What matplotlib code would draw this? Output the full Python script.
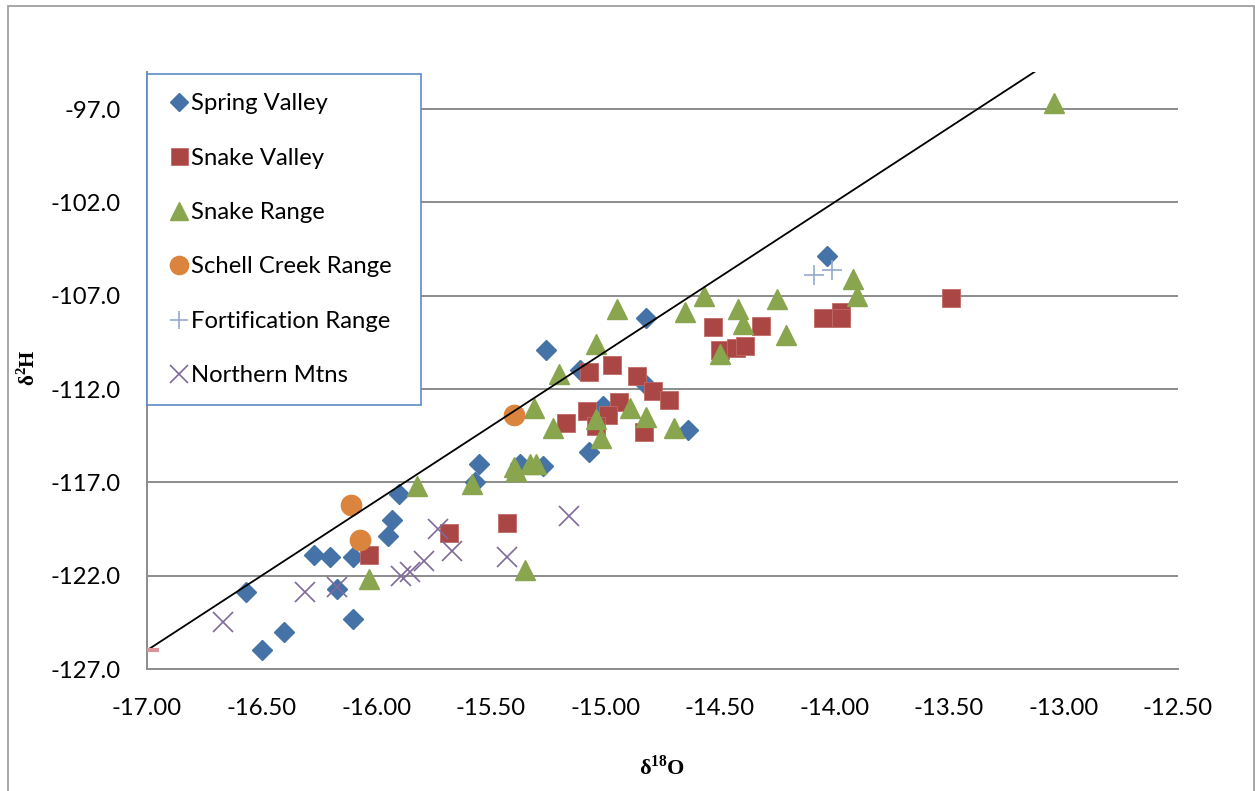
import numpy as np
import matplotlib
matplotlib.use("Agg")
import matplotlib.pyplot as plt
from matplotlib.patches import Rectangle

# δ18O / δ2H by sample area
spring_valley_o = [-16.57, -16.50, -16.40, -16.27, -16.20, -16.10, -16.10, -16.17,
                   -15.90, -15.93, -15.95, -15.57, -15.55, -15.37, -15.27, -15.26,
                   -15.11, -15.01, -14.64, -15.07, -14.83, -14.82, -14.03]
spring_valley_h = [-122.9, -126.0, -125.0, -120.9, -121.0, -121.0, -124.3, -122.7,
                   -117.6, -119.0, -119.9, -117.0, -116.0, -116.0, -116.1, -109.9,
                   -111.0, -112.9, -114.2, -115.4, -111.7, -108.2, -104.9]

snake_valley_o = [-16.03, -15.68, -15.43, -15.07, -14.97, -14.86, -14.79, -14.72,
                  -15.08, -14.94, -14.99, -15.17, -15.04, -14.83, -14.53, -14.32,
                  -14.50, -14.43, -14.39, -14.05, -13.97, -13.97, -13.49]
snake_valley_h = [-120.9, -119.7, -119.2, -111.1, -110.7, -111.3, -112.1, -112.6,
                  -113.2, -112.7, -113.4, -113.8, -114.0, -114.3, -108.7, -108.6,
                  -109.9, -109.8, -109.7, -108.2, -107.9, -108.2, -107.1]

snake_range_o = [-16.03, -15.82, -15.58, -15.40, -15.39, -15.33, -15.30, -15.35,
                 -15.31, -15.23, -15.20, -15.04, -15.04, -15.02, -14.89, -14.82,
                 -14.70, -14.95, -14.65, -14.57, -14.42, -14.40, -14.25, -14.21,
                 -14.50, -13.92, -13.90, -13.04]
snake_range_h = [-122.2, -117.2, -117.1, -116.2, -116.4, -116.0, -116.0, -121.7,
                 -113.0, -114.1, -111.2, -109.6, -113.6, -114.6, -113.0, -113.5,
                 -114.1, -107.7, -107.9, -107.0, -107.7, -108.5, -107.2, -109.1,
                 -110.1, -106.1, -107.0, -96.7]

schell_creek_o = [-16.11, -16.07, -15.40]
schell_creek_h = [-118.2, -120.1, -113.4]

fortification_o = [-14.09, -14.01]
fortification_h = [-105.9, -105.6]

northern_o = [-16.67, -16.31, -16.17, -15.89, -15.85, -15.79, -15.73, -15.67,
              -15.16, -15.43]
northern_h = [-124.5, -122.9, -122.6, -122.0, -121.8, -121.2, -119.5, -120.7,
              -118.8, -121.0]

# global meteoric water line end points
gmwl_o = [-17.0, -13.0]
gmwl_h = [-126.0, -94.0]

y_ticks = [-127.0, -122.0, -117.0, -112.0, -107.0, -102.0, -97.0]
x_ticks = [-17.0, -16.5, -16.0, -15.5, -15.0, -14.5, -14.0, -13.5, -13.0, -12.5]

plt.rcParams["font.family"] = ["Lato", "DejaVu Sans"]
plt.rcParams["mathtext.fontset"] = "custom"
plt.rcParams["mathtext.bf"] = "Liberation Serif:bold"
plt.rcParams["mathtext.rm"] = "Liberation Serif:bold"

fig = plt.figure(figsize=(12.55, 7.91), dpi=100)
ax = fig.add_axes([147 / 1255, 1 - 669 / 791, 1031 / 1255, 597.3 / 791])

grid_col = "#8c8c8c"
ax.set_xlim(-17.0, -12.5)
ax.set_ylim(-127.0, -95.0)
ax.set_yticks(y_ticks)
ax.set_xticks(x_ticks)
ax.set_yticklabels([f"{v:.1f}" for v in y_ticks])
ax.set_xticklabels([f"{v:.2f}" for v in x_ticks])
ax.tick_params(length=0, labelsize=17.2, colors="black")
ax.tick_params(axis="y", pad=19)
ax.tick_params(axis="x", pad=21)
ax.grid(axis="y", color=grid_col, lw=1.4)
ax.set_axisbelow(True)
for side in ("top", "right"):
    ax.spines[side].set_visible(False)
for side in ("left", "bottom"):
    ax.spines[side].set_color(grid_col)
    ax.spines[side].set_linewidth(1.4)

ax.plot(spring_valley_o, spring_valley_h, ls="none", marker="D", ms=10.2,
        color="#4572A7", mec="#4572A7", label="Spring Valley", zorder=3)
ax.plot(snake_valley_o, snake_valley_h, ls="none", marker="s", ms=13.6,
        color="#AA4643", mec="#C06a67", mew=0.6, label="Snake Valley", zorder=3)
ax.plot(snake_range_o, snake_range_h, ls="none", marker="^", ms=14,
        color="#89A54E", mec="#89A54E", label="Snake Range", zorder=3)
ax.plot(schell_creek_o, schell_creek_h, ls="none", marker="o", ms=14.6,
        color="#DB843D", mec="#DB843D", label="Schell Creek Range", zorder=3)
ax.plot(fortification_o, fortification_h, ls="none", marker="+", ms=13.7,
        mew=1.2, color="#93A9CF", label="Fortification Range", zorder=3)
ax.plot(northern_o, northern_h, ls="none", marker="x", ms=13.7, mew=1.2,
        color="#80699B", label="Northern Mtns", zorder=3)
ax.plot(gmwl_o, gmwl_h, color="black", lw=1.3, marker="_", markevery=[0],
        ms=17, mew=3, mec="#D9959A", zorder=4)

leg = ax.legend(loc="upper left", bbox_to_anchor=(0, 0, 274 / 1031, 595 / 597.3),
                mode="expand", borderaxespad=0, fontsize=17.2, frameon=True,
                fancybox=False, borderpad=0.8, labelspacing=1.40,
                handlelength=1.1, handletextpad=-0.05, markerscale=0.9)
frame = leg.get_frame()
frame.set_edgecolor("#5b8cc6")
frame.set_linewidth(1.2)
frame.set_alpha(1)
leg.set_zorder(5)

fig.text(28 / 1255, 1 - 368 / 791, "δ$^{2}$H", rotation=90, ha="center",
         va="center", family="Liberation Serif", weight="bold", fontsize=15)
fig.text(662 / 1255, 1 - 767 / 791, "δ$^{18}$O", ha="center", va="center",
         family="Liberation Serif", weight="bold", fontsize=16)

# chart border
fig.patches.append(Rectangle((8 / 1255, -0.02), 1246 / 1255, 1.02 - 6 / 791,
                             transform=fig.transFigure, fill=False,
                             edgecolor="#a0a0a0", lw=1.3))

fig.savefig("out.png", dpi=100)
